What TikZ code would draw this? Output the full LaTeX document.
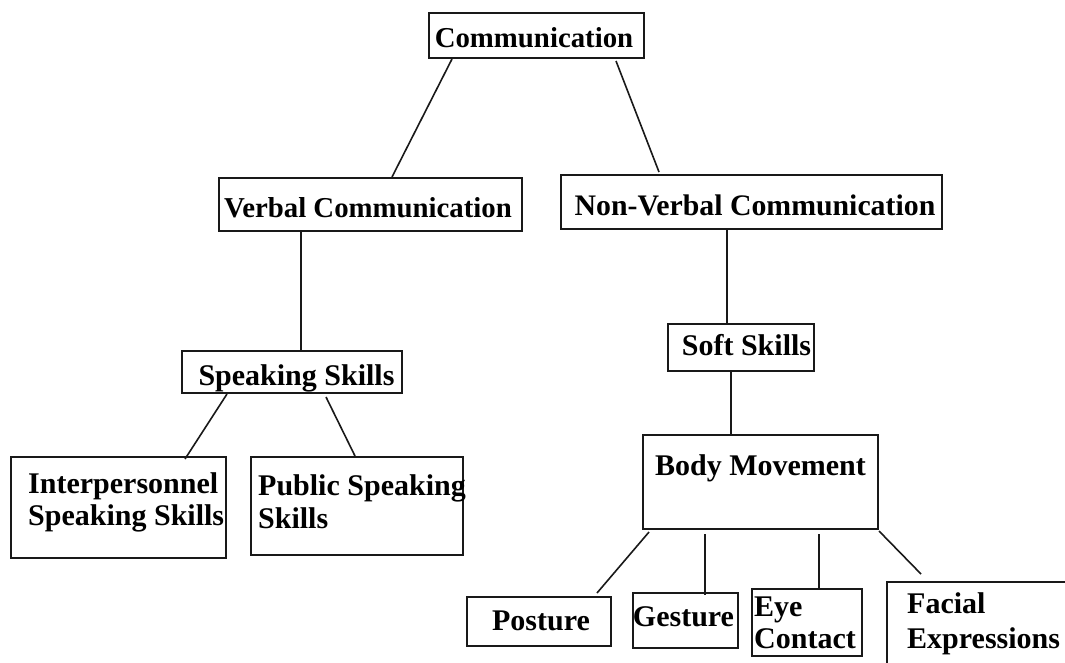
\documentclass[tikz,border=0pt]{standalone}
\usepackage{fontspec}
\setmainfont{Liberation Serif}
\begin{document}
\begin{tikzpicture}[x=1pt,y=-1pt,
  box/.style={draw=black!90, line width=2pt, rectangle, inner sep=0pt},
  conn/.style={draw=black!90, line width=1.6pt},
  txt/.style={inner sep=0pt, align=left, font=\bfseries\fontsize{30}{32}\selectfont},
  txtsm/.style={inner sep=0pt, align=left, font=\bfseries\fontsize{28.8}{32}\selectfont}]
\useasboundingbox (0,0) rectangle (1065,662);
\clip (0,0) rectangle (1065,662);
\fill[white] (0,0) rectangle (1065,662);
% boxes
\node[box, minimum width=215pt, minimum height=45pt] (comm) at (536.5,35.5) {};
\node[box, minimum width=303pt, minimum height=53pt] (verbal) at (370.5,204.5) {};
\node[box, minimum width=381pt, minimum height=54pt] (nonverbal) at (751.5,202) {};
\node[box, minimum width=220pt, minimum height=42pt] (speaking) at (292,372) {};
\node[box, minimum width=215pt, minimum height=101pt] (inter) at (118.5,507.5) {};
\node[box, minimum width=212pt, minimum height=98pt] (public) at (357,506) {};
\node[box, minimum width=146pt, minimum height=47pt] (soft) at (741,347.5) {};
\node[box, minimum width=235pt, minimum height=94pt] (body) at (760.5,482) {};
\node[box, minimum width=144pt, minimum height=49pt] (posture) at (539,621.5) {};
\node[box, minimum width=105pt, minimum height=55pt] (gesture) at (685.5,620.5) {};
\node[box, minimum width=110pt, minimum height=67pt] (eye) at (807,622.5) {};
\node[box, minimum width=250pt, minimum height=150pt] (facial) at (1012,657) {};
% texts
\node[txtsm, anchor=base] (comm-t) at (534,47) {Communication};
\node[txtsm, anchor=base] (verbal-t) at (368,217) {Verbal Communication};
\node[txt, font=\bfseries\fontsize{29.8}{32}\selectfont, anchor=base] (nonverbal-t) at (755,215) {Non-Verbal Communication};
\node[txt, anchor=base] (speaking-t) at (296.5,385) {Speaking Skills};
\node[txt, anchor=base west] (inter-t) at (28,525) {Interpersonnel\\Speaking Skills};
\node[txt, anchor=base west] (public-t) at (258,528) {Public Speaking\\[1pt]Skills};
\node[txt, anchor=base] (soft-t) at (746.5,355) {Soft Skills};
\node[txt, anchor=base] (body-t) at (760.5,475) {Body Movement};
\node[txt, anchor=base] (posture-t) at (541,630) {Posture};
\node[txt, anchor=base] (gesture-t) at (683.5,626) {Gesture};
\node[txt, anchor=base west] (eye-t) at (754,648) {Eye\\Contact};
\node[txt, anchor=base west] (facial-t) at (907,648) {Facial\\[3pt]Expressions};
% connectors
\draw[conn] ([xshift=24pt]comm.south west) -- ([xshift=174pt]verbal.north west);
\draw[conn] ([xshift=188pt,yshift=-2pt]comm.south west) -- ([xshift=99pt,yshift=2pt]nonverbal.north west);
\draw[conn] ([xshift=83pt]verbal.south west) -- ([xshift=120pt]speaking.north west);
\draw[conn] ([xshift=46pt]speaking.south west) -- ([xshift=175pt,yshift=-3pt]inter.north west);
\draw[conn] ([xshift=145pt,yshift=-3pt]speaking.south west) -- ([xshift=105pt]public.north west);
\draw[conn] ([xshift=167pt]nonverbal.south west) -- ([xshift=60pt]soft.north west);
\draw[conn] ([xshift=64pt]soft.south west) -- ([xshift=89pt]body.north west);
\draw[conn] ([xshift=7pt,yshift=-2pt]body.south west) -- ([xshift=131pt,yshift=3pt]posture.north west);
\draw[conn] ([xshift=63pt,yshift=-4pt]body.south west) -- ([xshift=73pt,yshift=-3pt]gesture.north west);
\draw[conn] ([xshift=177pt,yshift=-4pt]body.south west) -- ([xshift=68pt]eye.north west);
\draw[conn] ([yshift=-1pt]body.south east) -- ([xshift=35pt,yshift=7pt]facial.north west);
\end{tikzpicture}
\end{document}
